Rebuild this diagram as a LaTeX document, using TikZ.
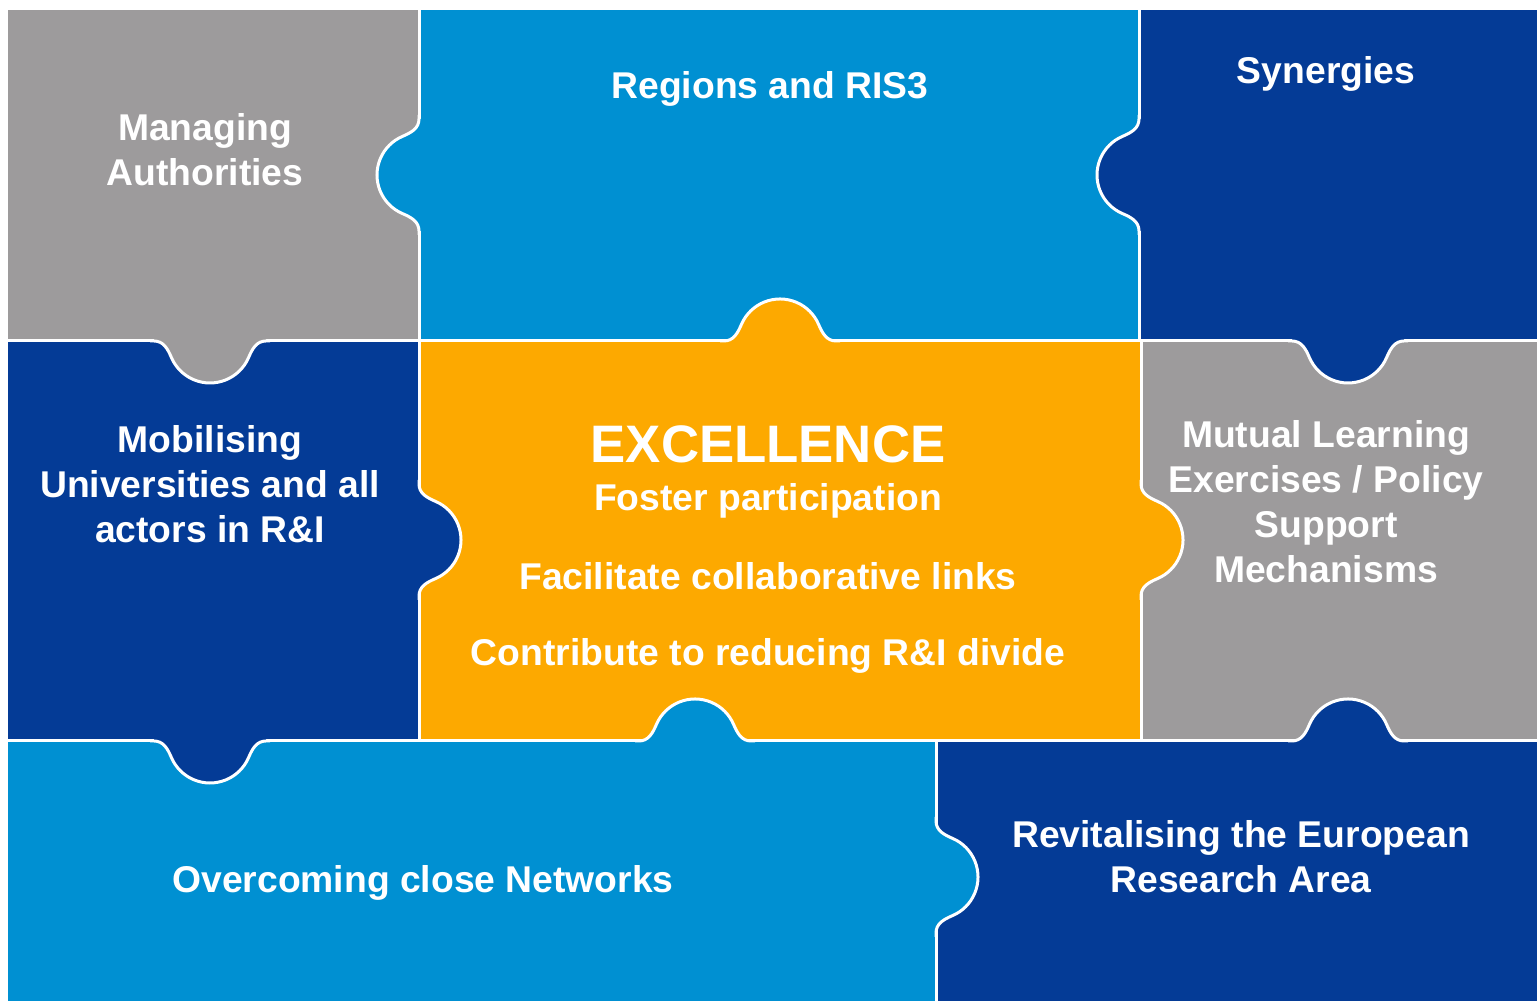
\documentclass[tikz,border=0pt]{standalone}
\usepackage{fontspec}
\setmainfont{Liberation Sans}
\definecolor{pgray}{RGB}{157,155,156}
\definecolor{plblue}{RGB}{0,144,210}
\definecolor{pdblue}{RGB}{4,59,150}
\definecolor{porange}{RGB}{253,169,0}
\tikzset{
  sepline/.style={draw=white, line width=0.3mm},
  lbl/.style={text=white, font=\fontsize{10.6pt}{12.8pt}\selectfont\bfseries, align=center, inner sep=0pt},
  biglbl/.style={text=white, font=\fontsize{15pt}{18pt}\selectfont\bfseries, align=center, inner sep=0pt},
}
\newcommand\puzzleknob[4]{%
  \begin{scope}[shift={(#1,#2)}, rotate=#3]
    \fill[#4] (-56,-4) -- (-56,0) to[out=0,in=-113] (-38.66,16.41)
      arc[start angle=157,end angle=23,radius=42] to[out=-67,in=180] (56,0) -- (56,-4) -- cycle;
    \draw[sepline] (-60,0) -- (-56,0) to[out=0,in=-113] (-38.66,16.41)
      arc[start angle=157,end angle=23,radius=42] to[out=-67,in=180] (56,0) -- (60,0);
  \end{scope}}
\begin{document}
\begin{tikzpicture}[x=0.01cm,y=0.01cm]
\useasboundingbox (0,0) rectangle (1537,1001);
\fill[white] (0,0) rectangle (1537,1001);
% pieces
\fill[pgray]   (8,660) rectangle (419,991);
\fill[plblue]  (419,660) rectangle (1139,991);
\fill[pdblue]  (1139,660) rectangle (1537,991);
\fill[pdblue]  (8,260) rectangle (419,660);
\fill[porange] (419,260) rectangle (1141,660);
\fill[pgray]   (1141,260) rectangle (1537,660);
\fill[plblue]  (8,0) rectangle (936,260);
\fill[pdblue]  (936,0) rectangle (1537,260);
% separators
\draw[sepline] (8,660) -- (1537,660);
\draw[sepline] (8,260) -- (1537,260);
\draw[sepline] (419,660) -- (419,991);
\draw[sepline] (1139,660) -- (1139,991);
\draw[sepline] (419,260) -- (419,660);
\draw[sepline] (1141,260) -- (1141,660);
\draw[sepline] (936,0) -- (936,260);
% knobs
\puzzleknob{419}{826}{90}{plblue}
\puzzleknob{1139}{826}{90}{pdblue}
\puzzleknob{780}{660}{0}{porange}
\puzzleknob{210}{660}{180}{pgray}
\puzzleknob{1348}{660}{180}{pdblue}
\puzzleknob{419}{461}{-90}{pdblue}
\puzzleknob{1141}{461}{-90}{porange}
\puzzleknob{695}{260}{0}{plblue}
\puzzleknob{210}{260}{180}{pdblue}
\puzzleknob{1348}{260}{0}{pdblue}
\puzzleknob{936}{124}{-90}{plblue}
% labels
\node[lbl] (ma) at (205,851) {Managing\\Authorities};
\node[lbl] (reg) at (770,912) {Regions and RIS3};
\node[lbl] (syn) at (1326,927) {Synergies};
\node[lbl] (mob) at (210,517) {Mobilising\\Universities and all\\actors in R\&I};
\node[biglbl] (exc) at (768,557) {EXCELLENCE};
\node[lbl] (fos) at (768,500) {Foster participation};
\node[lbl] (fac) at (768,425) {Facilitate collaborative links};
\node[lbl] (con) at (768,345) {Contribute to reducing R\&I divide};
\node[lbl] (mut) at (1326,499.5) {Mutual Learning\\Exercises / Policy\\Support\\Mechanisms};
\node[lbl] (ove) at (423,118) {Overcoming close Networks};
\node[lbl] (rev) at (1241,144.5) {Revitalising the European\\Research Area};
\end{tikzpicture}
\end{document}
